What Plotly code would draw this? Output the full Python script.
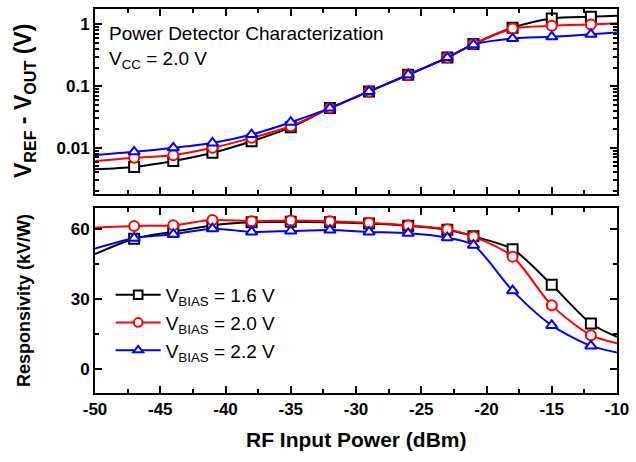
import plotly.graph_objects as go

# x positions (dBm); endpoints carry no marker
power = [-50, -47, -44, -41, -38, -35, -32, -29, -26, -23, -21, -18, -15, -12, -10]
has_marker = [0, 1, 1, 1, 1, 1, 1, 1, 1, 1, 1, 1, 1, 1, 0]

# V_REF - V_OUT (V)
vdiff_16 = [0.0045, 0.0049, 0.0061, 0.0083, 0.0128, 0.0215, 0.044, 0.082, 0.153, 0.29, 0.48, 0.885, 1.25, 1.33, 1.38]
vdiff_20 = [0.0061, 0.0069, 0.0076, 0.0100, 0.0145, 0.0224, 0.044, 0.082, 0.153, 0.29, 0.48, 0.86, 0.95, 1.00, 1.04]
vdiff_22 = [0.0076, 0.0086, 0.0100, 0.0120, 0.0164, 0.026, 0.044, 0.082, 0.153, 0.29, 0.47, 0.59, 0.63, 0.69, 0.74]

# Responsivity (kV/W)
resp_16 = [49.4, 56.0, 59.0, 61.7, 63.0, 63.3, 63.0, 62.5, 61.5, 59.8, 57.0, 51.5, 36.2, 19.6, 13.9]
resp_20 = [60.7, 61.4, 61.8, 64.0, 63.5, 63.8, 63.5, 62.8, 61.7, 60.0, 56.9, 48.3, 27.4, 14.6, 11.1]
resp_22 = [51.8, 56.2, 57.9, 60.3, 58.9, 59.3, 59.7, 58.9, 58.3, 56.4, 53.2, 33.7, 18.8, 10.0, 7.2]

x_ticks = [-50, -45, -40, -35, -30, -25, -20, -15, -10]
x_ticktext = ["-50", "-45", "-40", "-35", "-30", "-25", "-20", "-15", "-10"]

labels = ["V<sub>BIAS</sub> = 1.6 V", "V<sub>BIAS</sub> = 2.0 V", "V<sub>BIAS</sub> = 2.2 V"]
colors = ["#000000", "#ff0000", "#0000ff"]
symbols = ["square", "circle", "triangle-up"]

FONT = "Liberation Sans, Arial, sans-serif"
msize = [10 * m for m in has_marker]

fig = go.Figure()
for vd, rs, lab, col, sym in zip([vdiff_16, vdiff_20, vdiff_22], [resp_16, resp_20, resp_22], labels, colors, symbols):
    mk = dict(symbol=sym, size=msize, color="white", opacity=1, line=dict(width=2, color=col))
    fig.add_trace(go.Scatter(x=power, y=vd, mode="lines+markers", name=lab, showlegend=False,
                             line=dict(color=col, width=2, shape="spline", smoothing=0.8),
                             marker=mk, xaxis="x", yaxis="y"))
    fig.add_trace(go.Scatter(x=power, y=rs, mode="lines+markers", name=lab, showlegend=True,
                             line=dict(color=col, width=2, shape="spline", smoothing=0.8),
                             marker=mk, xaxis="x2", yaxis="y2"))

# empty helper traces so the mirrored tick axes are drawn
fig.add_trace(go.Scatter(x=[], y=[], xaxis="x3", yaxis="y3", showlegend=False, hoverinfo="skip"))
fig.add_trace(go.Scatter(x=[], y=[], xaxis="x4", yaxis="y4", showlegend=False, hoverinfo="skip"))

tickfont = dict(family=FONT, size=17, color="black", weight="bold")
axis_common = dict(showline=True, linecolor="black", linewidth=2, mirror=True,
                   ticks="inside", ticklen=7, tickwidth=2, tickcolor="black",
                   showgrid=False, zeroline=False, tickfont=tickfont)
xminor = dict(ticks="inside", tickvals=[-47.5, -42.5, -37.5, -32.5, -27.5, -22.5, -17.5, -12.5],
              ticklen=4, tickwidth=2, tickcolor="black")
logminor = dict(ticks="inside", ticklen=4, tickwidth=1.5, tickcolor="black",
                tickvals=[f * 10 ** e for e in (-3, -2, -1, 0) for f in range(2, 10)])
linminor = dict(ticks="inside", tickvals=[15, 45], ticklen=4, tickwidth=2, tickcolor="black")

fig.update_layout(
    width=636, height=462,
    margin=dict(l=95, r=17, t=7, b=69),
    paper_bgcolor="white", plot_bgcolor="white",
    font=dict(family=FONT, color="black"),
    xaxis=dict(domain=[0, 1], range=[-50, -10], anchor="y", tickvals=x_ticks, showticklabels=False,
               minor=xminor, **axis_common),
    yaxis=dict(domain=[0.518, 1], type="log", range=[-2.75, 0.25], anchor="x",
               tickvals=[0.01, 0.1, 1], ticktext=["0.01", "0.1", "1"], minor=logminor, **axis_common),
    xaxis2=dict(domain=[0, 1], range=[-50, -10], anchor="y2", tickvals=x_ticks, ticktext=x_ticktext,
                minor=xminor, **axis_common),
    yaxis2=dict(domain=[0, 0.482], range=[-10.2, 69.2], anchor="x2", tickvals=[0, 30, 60],
                minor=linminor, **axis_common),
    # mirrored tick axes (top / right) for both panels
    xaxis3=dict(overlaying="x", side="top", anchor="y3", range=[-50, -10], tickvals=x_ticks,
                showticklabels=False, minor=xminor, **axis_common),
    yaxis3=dict(overlaying="y", side="right", anchor="x3", type="log", range=[-2.75, 0.25],
                tickvals=[0.01, 0.1, 1], showticklabels=False, minor=logminor, **axis_common),
    xaxis4=dict(overlaying="x2", side="top", anchor="y4", range=[-50, -10], tickvals=x_ticks,
                showticklabels=False, minor=xminor, **axis_common),
    yaxis4=dict(overlaying="y2", side="right", anchor="x4", range=[-10.2, 69.2],
                tickvals=[0, 30, 60], showticklabels=False, minor=linminor, **axis_common),
    legend=dict(x=0.03, y=0.305, xanchor="left", yanchor="top", bgcolor="rgba(0,0,0,0)",
                font=dict(family=FONT, size=19, color="black"), tracegroupgap=0, itemwidth=45),
    showlegend=True,
)

fig.add_annotation(text="Power Detector Characterization", xref="paper", yref="paper",
                   x=0.023, y=0.935, xanchor="left", yanchor="middle", showarrow=False,
                   font=dict(family=FONT, size=19, color="black"))
fig.add_annotation(text="V<sub>CC</sub> = 2.0 V", xref="paper", yref="paper",
                   x=0.023, y=0.866, xanchor="left", yanchor="middle", showarrow=False,
                   font=dict(family=FONT, size=19, color="black"))
fig.add_annotation(text="V<sub>REF</sub> - V<sub>OUT</sub> (V)", xref="paper", yref="paper",
                   x=-0.135, y=(393 - 100) / 386, xanchor="center", yanchor="middle", textangle=-90,
                   showarrow=False, font=dict(family=FONT, size=23, color="black", weight="bold"))
fig.add_annotation(text="Responsivity (kV/W)", xref="paper", yref="paper",
                   x=-0.135, y=(393 - 300) / 386, xanchor="center", yanchor="middle", textangle=-90,
                   showarrow=False, font=dict(family=FONT, size=18, color="black", weight="bold"))
fig.add_annotation(text="RF Input Power (dBm)", xref="paper", yref="paper",
                   x=0.5, y=(393 - 440) / 386, xanchor="center", yanchor="middle",
                   showarrow=False, font=dict(family=FONT, size=21, color="black", weight="bold"))

fig.write_html("out.html")
